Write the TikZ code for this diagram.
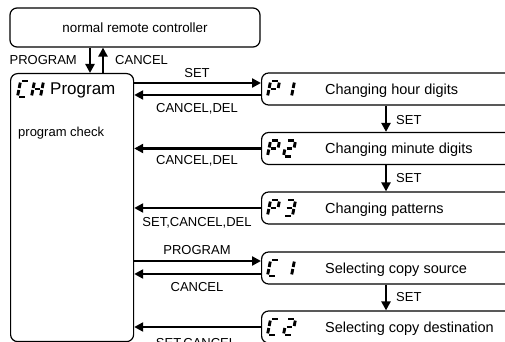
\documentclass[tikz,border=0pt]{standalone}
\usepackage{fontspec}
\setmainfont{Liberation Sans}
\usetikzlibrary{arrows.meta}
\newcommand\segpa{(1.6,8)--(7.4,8)}
\newcommand\segpb{(9,6.4)--(9,1)}
\newcommand\segpc{(9,-1)--(9,-6.4)}
\newcommand\segpd{(1.6,-8)--(7.4,-8)}
\newcommand\segpe{(0,-1)--(0,-6.4)}
\newcommand\segpf{(0,6.4)--(0,1)}
\newcommand\segpg{(1.6,0)--(7.4,0)}
\newcommand\sevseg[3]{\begin{scope}[shift={(#1,#2)},xslant=0.2]\foreach \s in {#3}{\draw[segline] \csname segp\s\endcsname;}\end{scope}}
\begin{document}
\begin{tikzpicture}[x=1pt,y=1pt,
  box/.style={draw,line width=1.2pt,rounded corners=7pt,inner sep=0pt},
  rbox/.style={box,anchor=west,minimum width=270pt,minimum height=32pt},
  arr/.style={line width=2.4pt,-{Triangle[length=9pt,width=9pt]}},
  lbl/.style={font=\fontsize{13}{15}\selectfont,inner sep=0pt},
  btxt/.style={font=\fontsize{14.5}{16}\selectfont,inner sep=0pt,anchor=base west},
  segline/.style={line width=2.9pt}]
\useasboundingbox (0,0) rectangle (505,342);
\clip (0,0) rectangle (505,342);
% boxes
\node[box,minimum width=250pt,minimum height=39pt,font=\fontsize{13.4}{15}\selectfont] (top) at (135,314.5) {normal remote controller};
\node[box,anchor=north west,minimum width=123pt,minimum height=268pt] (big) at (10,269) {};
\node[rbox] (p1) at (261,253) {};
\node[rbox] (p2) at (261,193.5) {};
\node[rbox] (p3) at (261,134) {};
\node[rbox] (c1) at (261,74) {};
\node[rbox] (c2) at (261,15) {};
% box texts
\node[font=\fontsize{17}{19}\selectfont,anchor=base west,inner sep=0pt] (prog) at (50,247.5) {Program};
\node[lbl,anchor=base west] (chk) at (18,205.3) {program check};
\node[btxt] (t1) at (325,247.5) {Changing hour digits};
\node[btxt] (t2) at (325,188) {Changing minute digits};
\node[btxt] (t3) at (325,128.5) {Changing patterns};
\node[btxt] (t4) at (325,68.5) {Selecting copy source};
\node[btxt] (t5) at (325,9.5) {Selecting copy destination};
% seven segment glyphs
\sevseg{19}{253}{a,f,e,d}
\sevseg{33}{253}{b,c,e,f,g}
\sevseg{269}{253}{a,b,f,g,e}
\sevseg{284}{253}{b,c}
\sevseg{269}{193.5}{a,b,f,g,e}
\sevseg{285}{193.5}{a,b,g,e,d}
\sevseg{269}{134}{a,b,f,g,e}
\sevseg{285}{134}{a,b,g,c,d}
\sevseg{269}{74}{a,f,e,d}
\sevseg{284}{74}{b,c}
\sevseg{269}{15}{a,f,e,d}
\sevseg{285}{15}{a,b,g,e,d}
% top arrows
\coordinate (dx) at (90,0);
\coordinate (ux) at (103,0);
\draw[arr] (top.south -| dx) -- (big.north -| dx);
\draw[arr] (big.north -| ux) -- (top.south -| ux);
\node[lbl,anchor=base east] (lprog) at (77,277.3) {PROGRAM};
\node[lbl,anchor=base west] (lcanc) at (115,277.3) {CANCEL};
% horizontal arrows
\coordinate (a1) at ([yshift=6pt]p1.west);
\coordinate (a2) at ([yshift=-6pt]p1.west);
\draw[arr] (big.east |- a1) -- (a1);
\draw[arr] (a2) -- (big.east |- a2);
\draw[arr] (p2.west) -- (big.east |- p2.west);
\draw[arr] (p3.west) -- (big.east |- p3.west);
\coordinate (b1) at ([yshift=7pt]c1.west);
\coordinate (b2) at ([yshift=-6pt]c1.west);
\draw[arr] (big.east |- b1) -- (b1);
\draw[arr] (b2) -- (big.east |- b2);
\draw[arr] (c2.west) -- (big.east |- c2.west);
\node[lbl,anchor=base] (l1) at (197,264.3) {SET};
\node[lbl,anchor=base] (l2) at (197,229.5) {CANCEL,DEL};
\node[lbl,anchor=base] (l3) at (197,177.3) {CANCEL,DEL};
\node[lbl,anchor=base] (l4) at (197,115.3) {SET,CANCEL,DEL};
\node[lbl,anchor=base] (l5) at (197,87.3) {PROGRAM};
\node[lbl,anchor=base] (l6) at (197,50.3) {CANCEL};
\node[lbl,anchor=base] (l7) at (196,-5.3) {SET,CANCEL};
% down arrows
\coordinate (sx) at (386,0);
\draw[arr] (p1.south -| sx) -- (p2.north -| sx);
\draw[arr] (p2.south -| sx) -- (p3.north -| sx);
\draw[arr] (c1.south -| sx) -- (c2.north -| sx);
\node[lbl,anchor=base west] (s1) at (396,217.3) {SET};
\node[lbl,anchor=base west] (s2) at (396,159.3) {SET};
\node[lbl,anchor=base west] (s3) at (396,40.3) {SET};
\end{tikzpicture}
\end{document}
